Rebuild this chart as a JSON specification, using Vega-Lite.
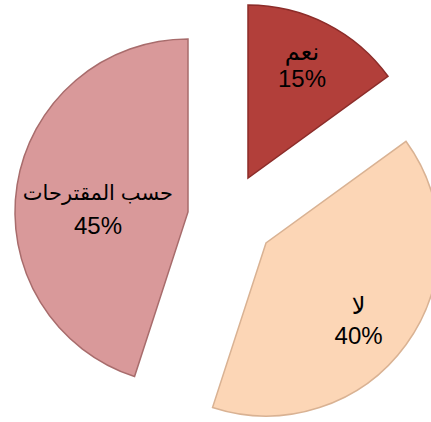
{
  "$schema": "https://vega.github.io/schema/vega-lite/v6.json",
  "width": 431,
  "height": 422,
  "autosize": "none",
  "padding": 0,
  "background": "white",
  "view": {"stroke": null},
  "data": {
    "values": [
      {"cat": "نعم", "pct": 0.15},
      {"cat": "لا", "pct": 0.40},
      {"cat": "حسب المقترحات", "pct": 0.45}
    ]
  },
  "encoding": {
    "theta": {"field": "pct", "type": "quantitative", "stack": true, "scale": {"domain": [0, 1]}},
    "order": {"field": "pct", "type": "quantitative", "sort": "ascending"}
  },
  "layer": [
    {
      "mark": {"type": "arc", "radius": 173, "xOffset": 32.5, "yOffset": -33, "fill": "#b23f3a", "stroke": "#8c2c29", "strokeWidth": 1.5},
      "encoding": {"opacity": {"condition": {"test": "datum.cat === 'نعم'", "value": 1}, "value": 0}}
    },
    {
      "mark": {"type": "arc", "radius": 173, "xOffset": 50.5, "yOffset": 32, "fill": "#fcd6b6", "stroke": "#d9b293", "strokeWidth": 1.5},
      "encoding": {"opacity": {"condition": {"test": "datum.cat === 'لا'", "value": 1}, "value": 0}}
    },
    {
      "mark": {"type": "arc", "radius": 173, "xOffset": -27.5, "yOffset": 1, "fill": "#d9999a", "stroke": "#a86c6c", "strokeWidth": 1.5},
      "encoding": {"opacity": {"condition": {"test": "datum.cat === 'حسب المقترحات'", "value": 1}, "value": 0}}
    },
    {
      "mark": {"type": "text", "radius": 120, "xOffset": 32, "yOffset": -37, "dy": -14, "fontSize": 24, "font": "Liberation Sans, DejaVu Sans", "color": "black", "baseline": "middle", "align": "center"},
      "encoding": {"text": {"condition": {"test": "datum.cat === 'نعم'", "field": "cat"}, "value": ""}}
    },
    {
      "mark": {"type": "text", "radius": 120, "xOffset": 32, "yOffset": -37, "dy": 13, "fontSize": 24, "font": "Liberation Sans, DejaVu Sans", "color": "black", "baseline": "middle", "align": "center"},
      "encoding": {"text": {"condition": {"test": "datum.cat === 'نعم'", "field": "pct", "format": ".0%"}, "value": ""}}
    },
    {
      "mark": {"type": "text", "radius": 120, "xOffset": 46, "yOffset": 39.5, "dy": -14, "fontSize": 24, "font": "Liberation Sans, DejaVu Sans", "color": "black", "baseline": "middle", "align": "center"},
      "encoding": {"text": {"condition": {"test": "datum.cat === 'لا'", "field": "cat"}, "value": ""}}
    },
    {
      "mark": {"type": "text", "radius": 120, "xOffset": 46, "yOffset": 39.5, "dy": 16, "fontSize": 24, "font": "Liberation Sans, DejaVu Sans", "color": "black", "baseline": "middle", "align": "center"},
      "encoding": {"text": {"condition": {"test": "datum.cat === 'لا'", "field": "pct", "format": ".0%"}, "value": ""}}
    },
    {
      "mark": {"type": "text", "radius": 120, "xOffset": 1, "yOffset": 18, "dy": -16, "fontSize": 21, "font": "Liberation Sans, DejaVu Sans", "color": "black", "baseline": "middle", "align": "center"},
      "encoding": {"text": {"condition": {"test": "datum.cat === 'حسب المقترحات'", "field": "cat"}, "value": ""}}
    },
    {
      "mark": {"type": "text", "radius": 120, "xOffset": 1, "yOffset": 18, "dy": 17, "fontSize": 24, "font": "Liberation Sans, DejaVu Sans", "color": "black", "baseline": "middle", "align": "center"},
      "encoding": {"text": {"condition": {"test": "datum.cat === 'حسب المقترحات'", "field": "pct", "format": ".0%"}, "value": ""}}
    }
  ]
}
